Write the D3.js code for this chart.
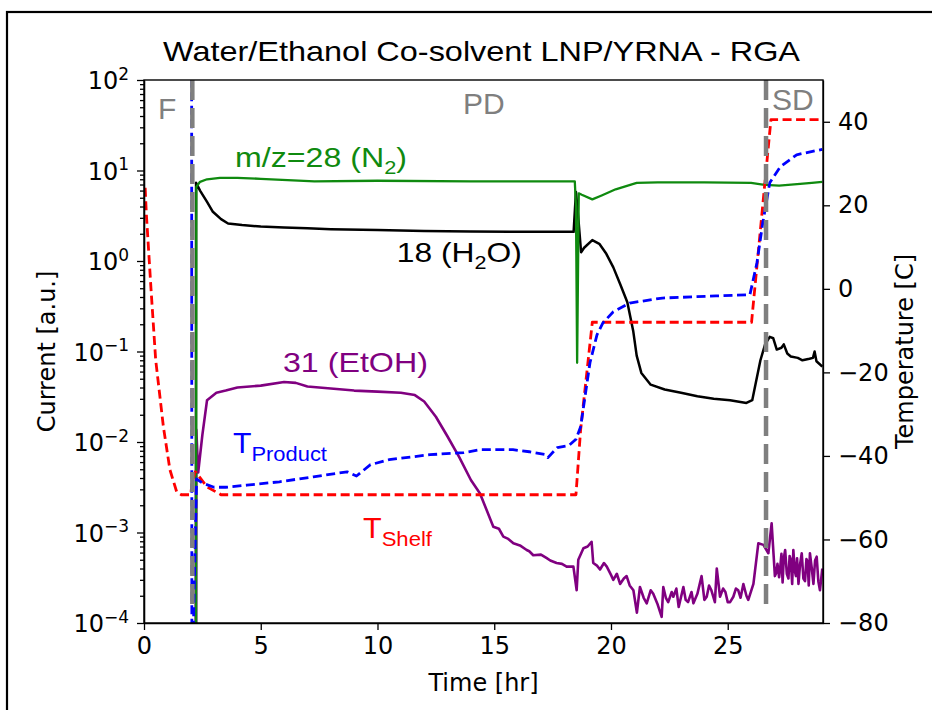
<!DOCTYPE html>
<html>
<head>
<meta charset="utf-8">
<script src="https://cdn.jsdelivr.net/npm/d3@7"></script>
<style>
body{margin:0;background:#fff;}
svg{display:block;}
.axis text{font-family:"DejaVu Sans",sans-serif;font-size:24px;fill:#000;}
.axis line,.axis path{stroke:#000;stroke-width:1.3;}
.note{font-family:"Liberation Sans",Arial,sans-serif;}
</style>
</head>
<body>
<div id="chart"></div>
<script>
//ticks
const ticksTime = [0, 5, 10, 15, 20, 25];
const ticksCurrent = [1e-4, 1e-3, 1e-2, 1e-1, 1e0, 1e1, 1e2];
const ticksTemp = [-80, -60, -40, -20, 0, 20, 40];

//phases
const phaseNames = ["F", "PD", "SD"];
const phaseBounds = [2.07, 26.64];

//m/z=28 (N2)
const timeN2 = [2.23, 2.24, 2.4, 2.7, 3.25, 4, 5, 7.3, 10, 14, 18.45, 18.5, 18.55, 18.62, 18.75, 19.2, 19.6, 20.2, 21.1, 22, 24, 26, 26.5, 26.8, 27.2, 28.1, 28.6, 29.05];
const valN2 = [5e-5, 6.6, 7.5, 8.0, 8.3, 8.3, 8.1, 7.6, 7.7, 7.6, 7.6, 4.0, 0.075, 5.6, 5.4, 4.8, 5.3, 6.2, 7.3, 7.4, 7.4, 7.3, 7.0, 6.9, 6.8, 7.1, 7.3, 7.5];

//18 (H2O)
const timeH2O = [2.22, 2.23, 2.4, 2.7, 2.95, 3.3, 3.6, 4.2, 5, 6, 7, 8, 10, 12, 14, 16, 18.4, 18.5, 18.6, 18.72, 18.85, 19.2, 19.5, 19.8, 20.1, 20.4, 20.7, 20.95, 21.1, 21.3, 21.7, 22.3, 23, 23.7, 24.4, 25.1, 25.8, 26.05, 26.2, 26.4, 26.6, 26.8, 26.95, 27.1, 27.3, 27.4, 27.55, 27.7, 28.0, 28.2, 28.5, 28.65, 28.72, 28.8, 29.05];
const valH2O = [5e-5, 7.3, 6.0, 4.5, 3.5, 2.9, 2.6, 2.5, 2.4, 2.35, 2.3, 2.25, 2.2, 2.15, 2.12, 2.1, 2.1, 5.8, 3.0, 1.25, 1.4, 1.7, 1.55, 1.2, 0.85, 0.55, 0.35, 0.17, 0.09, 0.058, 0.043, 0.038, 0.035, 0.032, 0.030, 0.029, 0.027, 0.029, 0.045, 0.08, 0.12, 0.145, 0.14, 0.105, 0.11, 0.12, 0.095, 0.088, 0.085, 0.08, 0.083, 0.085, 0.1, 0.078, 0.068];

//31 (EtOH)
const timeEtOH = [2.23, 2.24, 2.32, 2.5, 2.7, 3.1, 3.5, 4, 5, 6, 6.5, 7, 8, 9, 10, 11, 11.6, 12, 12.5, 13, 13.5, 14, 14.39, 14.96, 15.2, 15.39, 15.6, 15.82, 16.1, 16.39, 16.5, 16.67, 17.0, 17.25, 17.4, 17.67, 17.9, 18.1, 18.39, 18.53, 18.6, 18.82, 19.0, 19.17, 19.24, 19.4, 19.53, 19.7, 19.82, 20.0, 20.1, 20.25, 20.39, 20.55, 20.67, 20.8, 20.96, 21.11, 21.24, 21.4, 21.53, 21.7, 21.81, 22.0, 22.17, 22.24, 22.35, 22.45, 22.6, 22.67, 22.8, 22.9, 23.1, 23.2, 23.3, 23.45, 23.53, 23.7, 23.88, 24.0, 24.1, 24.2, 24.3, 24.45, 24.53, 24.67, 24.8, 24.9, 25.0, 25.1, 25.24, 25.35, 25.45, 25.55, 25.67, 25.8, 25.88, 26.1, 26.31, 26.53, 26.74, 26.88, 27.02, 27.08, 27.13, 27.2, 27.24, 27.3, 27.35, 27.4, 27.46, 27.53, 27.6, 27.65, 27.7, 27.76, 27.81, 27.87, 27.92, 27.97, 28.03, 28.1, 28.17, 28.24, 28.31, 28.37, 28.42, 28.47, 28.52, 28.6, 28.67, 28.74, 28.81, 28.88, 28.95, 29.05];
const valEtOH = [5e-5, 0.0136, 0.0046, 0.012, 0.029, 0.035, 0.037, 0.040, 0.042, 0.046, 0.045, 0.041, 0.039, 0.037, 0.036, 0.035, 0.033, 0.028, 0.019, 0.0115, 0.0068, 0.0038, 0.0027, 0.00116, 0.0011, 0.0009, 0.00085, 0.00076, 0.00072, 0.00064, 0.00062, 0.00056, 0.00057, 0.00052, 0.00049, 0.00046, 0.00045, 0.00042, 0.00042, 0.00023, 0.0005, 0.00067, 0.0007, 0.00079, 0.00046, 0.00043, 0.00039, 0.00046, 0.00042, 0.00034, 0.0003, 0.00035, 0.00027, 0.00031, 0.00033, 0.00026, 0.00023, 0.00013, 0.00025, 0.00019, 0.000165, 0.00023, 0.00021, 0.00016, 0.000117, 0.00025, 0.00019, 0.00017, 0.00022, 0.000195, 0.00024, 0.00015, 0.00025, 0.00018, 0.00017, 0.00022, 0.000165, 0.00021, 0.00033, 0.00018, 0.000195, 0.00026, 0.00023, 0.00017, 0.0004, 0.000195, 0.00024, 0.00022, 0.00017, 0.00017, 0.000195, 0.00024, 0.00023, 0.00019, 0.00027, 0.0002, 0.00018, 0.00027, 0.00076, 0.00073, 0.00059, 0.00126, 0.00033, 0.00036, 0.00045, 0.00032, 0.00039, 0.00058, 0.00028, 0.00052, 0.00064, 0.00035, 0.00031, 0.00055, 0.0005, 0.00027, 0.00064, 0.00038, 0.00033, 0.00052, 0.00027, 0.00045, 0.00059, 0.00031, 0.00029, 0.00051, 0.00048, 0.00026, 0.00059, 0.0004, 0.00027, 0.00049, 0.00054, 0.00029, 0.00023, 0.0004];

//T shelf
const timeShelf = [0.05, 0.1, 0.3, 0.5, 0.83, 1.11, 1.4, 1.6, 2.0, 2.07, 2.2, 2.7, 3.3, 18.5, 18.7, 19.2, 26.02, 26.85, 29.05];
const valShelf = [24.2, 18, 0, -17, -33, -43.3, -48.6, -49.3, -49.3, -46, -43.8, -47.4, -49.3, -49.3, -33.7, -8, -8, 40.5, 40.5];

//T product
const timeProduct = [2.04, 2.05, 2.12, 2.25, 2.5, 3.0, 3.5, 4.4, 5.8, 7.25, 8.7, 9.1, 9.7, 10.5, 12.25, 13.7, 14.4, 15.8, 16.5, 17.2, 17.3, 17.7, 18.2, 18.5, 18.7, 19.1, 19.4, 19.66, 20.1, 20.8, 22.2, 24.5, 25.95, 26.25, 26.5, 26.8, 27.25, 27.95, 29.05];
const valProduct = [60, -90, -80, -45.5, -46.5, -47.5, -47.5, -47, -46.2, -45, -43.8, -44.8, -42.1, -40.9, -39.7, -39.2, -38.5, -38.5, -39, -39.7, -40.4, -38, -37.5, -36, -33, -17.7, -11, -8.1, -5.5, -3.4, -2.2, -1.7, -1.4, 6.2, 15.8, 25.4, 29.2, 32.1, 33.4];


function graph(){

	//sizing
	let margin = {top:80, right:109, bottom:87, left:144};
	let width = 932;
	let height = 710;

	let svg = d3.select("#chart")
		.append("svg")
		.attr("width", width)
		.attr("height", height);

	//figure frame
	svg.append("rect")
		.attr("x", 7)
		.attr("y", 12)
		.attr("width", 960)
		.attr("height", 720)
		.attr("fill", "none")
		.attr("stroke", "#000")
		.attr("stroke-width", 2.2);

	//scales
	const xScale = d3.scaleLinear()
		.domain([0, 29.08])
		.range([margin.left, width-margin.right]);

	const yScale = d3.scaleLog()
		.domain([1e-4, 1e2])
		.range([height-margin.bottom, margin.top]);

	const tScale = d3.scaleLinear()
		.domain([-80, 50])
		.range([height-margin.bottom, margin.top]);

	//clip
	svg.append("clipPath")
		.attr("id", "plot-clip")
		.append("rect")
		.attr("x", margin.left)
		.attr("y", margin.top)
		.attr("width", width-margin.left-margin.right)
		.attr("height", height-margin.top-margin.bottom);

	let plot = svg.append("g").attr("clip-path", "url(#plot-clip)");

	//line generators
	const lineCurrent = d3.line()
		.x((d)=>{return xScale(d[0]);})
		.y((d)=>{return yScale(d[1]);});

	const lineTemp = d3.line()
		.x((d)=>{return xScale(d[0]);})
		.y((d)=>{return tScale(d[1]);});

	const series = [
		{t:timeH2O, v:valH2O, color:"#000000", width:2.5, line:lineCurrent, dash:null},
		{t:timeEtOH, v:valEtOH, color:"#800080", width:2.6, line:lineCurrent, dash:null},
		{t:timeN2, v:valN2, color:"#0f8a0f", width:2.3, line:lineCurrent, dash:null},
		{t:timeShelf, v:valShelf, color:"#ff0000", width:2.8, line:lineTemp, dash:"9,4.5"},
		{t:timeProduct, v:valProduct, color:"#0000ff", width:2.8, line:lineTemp, dash:"9,4.5"}
	];

	series.forEach((s)=>{
		plot.append("path")
			.datum(s.t.map((t,i)=>[t, s.v[i]]))
			.attr("fill", "none")
			.attr("stroke", s.color)
			.attr("stroke-width", s.width)
			.attr("stroke-linejoin", "round")
			.attr("stroke-dasharray", s.dash)
			.attr("d", s.line);
	});

	//phase boundaries
	plot.selectAll(".phase")
		.data(phaseBounds)
		.enter()
		.append("line")
		.attr("class", "phase")
		.attr("x1", (d)=>xScale(d))
		.attr("x2", (d)=>xScale(d))
		.attr("y1", margin.top)
		.attr("y2", height-margin.bottom-12)
		.attr("stroke", "#7f7f7f")
		.attr("stroke-width", 4.5)
		.attr("stroke-dasharray", "20,8");

	//phase labels
	const phaseX = [xScale(0.6), xScale(14.55), xScale(26.9)];
	const phaseY = [119, 114, 110];
	const phaseAnchor = ["start", "middle", "start"];
	svg.selectAll(".phase-label")
		.data(phaseNames)
		.enter()
		.append("text")
		.attr("class", "note")
		.attr("x", (d,i)=>phaseX[i])
		.attr("y", (d,i)=>phaseY[i])
		.attr("text-anchor", (d,i)=>phaseAnchor[i])
		.attr("fill", "#7f7f7f")
		.style("font-size", "30px")
		.text((d)=>d);

	//x axis
	const xAxis = d3.axisBottom(xScale)
		.tickValues(ticksTime)
		.tickSize(7)
		.tickPadding(7)
		.tickSizeOuter(0);

	svg.append("g")
		.attr("class", "axis x_axis")
		.attr("transform", `translate(0,${height-margin.bottom})`)
		.call(xAxis);

	//y axis current, minor ticks
	let minor = [];
	ticksCurrent.slice(0, -1).forEach((d)=>{
		for(let k=2; k<10; k++){ minor.push(d*k); }
	});

	svg.append("g")
		.attr("class", "axis y_minor")
		.attr("transform", `translate(${margin.left},0)`)
		.call(d3.axisLeft(yScale).tickValues(minor).tickSize(4).tickFormat("").tickSizeOuter(0));

	const yAxis = d3.axisLeft(yScale)
		.tickValues(ticksCurrent)
		.tickSize(7)
		.tickPadding(8)
		.tickSizeOuter(0);

	let yG = svg.append("g")
		.attr("class", "axis y_axis")
		.attr("transform", `translate(${margin.left},0)`)
		.call(yAxis);

	//label 10^n
	yG.selectAll(".tick text")
		.text(null)
		.attr("dy", "0.36em")
		.each(function(d){
			let e = Math.round(Math.log10(d));
			let t = d3.select(this);
			t.append("tspan").text("10");
			t.append("tspan")
				.attr("dy", "-0.55em")
				.style("font-size", "17px")
				.text(String(e).replace("-", "\u2212"));
		});

	//y axis temperature
	const tAxis = d3.axisRight(tScale)
		.tickValues(ticksTemp)
		.tickSize(7)
		.tickPadding(8)
		.tickSizeOuter(0)
		.tickFormat((d)=>String(d).replace("-", "\u2212"));

	svg.append("g")
		.attr("class", "axis t_axis")
		.attr("transform", `translate(${width-margin.right},0)`)
		.call(tAxis);

	//plot frame
	svg.append("rect")
		.attr("x", margin.left)
		.attr("y", margin.top)
		.attr("width", width-margin.left-margin.right)
		.attr("height", height-margin.top-margin.bottom)
		.attr("fill", "none")
		.attr("stroke", "#000")
		.attr("stroke-width", 1.4);

	//axis labels
	svg.append("text")
		.attr("transform", `translate(55,${(margin.top+height-margin.bottom)/2}) rotate(-90)`)
		.attr("text-anchor", "middle")
		.style("font-family", "DejaVu Sans")
		.style("font-size", "24px")
		.text("Current [a.u.]");

	svg.append("text")
		.attr("transform", `translate(913,${(margin.top+height-margin.bottom)/2}) rotate(-90)`)
		.attr("text-anchor", "middle")
		.style("font-family", "DejaVu Sans")
		.style("font-size", "24px")
		.text("Temperature [C]");

	svg.append("text")
		.attr("x", (margin.left+width-margin.right)/2)
		.attr("y", 691)
		.attr("text-anchor", "middle")
		.style("font-family", "DejaVu Sans")
		.style("font-size", "24px")
		.text("Time [hr]");

	//title
	svg.append("text")
		.attr("class", "note")
		.attr("x", 163)
		.attr("y", 61)
		.attr("textLength", 637)
		.attr("lengthAdjust", "spacingAndGlyphs")
		.style("font-size", "28px")
		.text("Water/Ethanol Co-solvent LNP/YRNA - RGA");

	//annotations (text, subscript, tail)
	function note(x, y, len, color, parts, size, subSize, drop){
		let t = svg.append("text")
			.attr("class", "note")
			.attr("x", x)
			.attr("y", y)
			.attr("fill", color)
			.attr("textLength", len)
			.attr("lengthAdjust", "spacingAndGlyphs")
			.style("font-size", size+"px");
		t.append("tspan").text(parts[0]);
		if(parts[1]) t.append("tspan").attr("dy", drop).style("font-size", subSize+"px").text(parts[1]);
		if(parts[2]) t.append("tspan").attr("dy", -drop).text(parts[2]);
	}

	note(xScale(3.9), yScale(10.9), 172, "#0f8a0f", ["m/z=28 (N", "2", ")"], 28, 19, 7);
	note(xScale(10.83), yScale(0.975), 125, "#000", ["18 (H", "2", "O)"], 28, 19, 7);
	note(xScale(5.95), yScale(0.0593), 145, "#800080", ["31 (EtOH)"], 28, 19, 0);
	note(xScale(3.81), tScale(-39.2), 94, "#0000ff", ["T", "Product"], 29, 21, 8);
	note(xScale(9.38), tScale(-59.6), 69, "#ff0000", ["T", "Shelf"], 29, 21, 8);

}

graph();
</script>
</body>
</html>
